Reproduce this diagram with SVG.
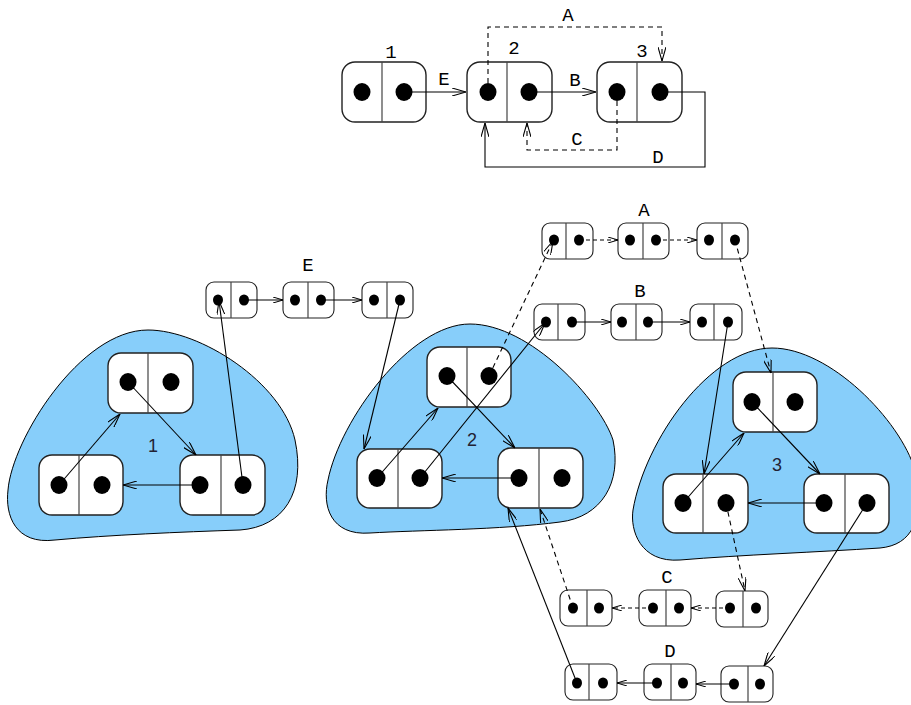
<svg xmlns="http://www.w3.org/2000/svg" width="911" height="705" viewBox="0 0 911 705">
<style>
.blob{fill:#87cefa;stroke:#000;stroke-width:1}
.big rect{fill:#fff;stroke:#222;stroke-width:1.4}
.sm rect{fill:#fff;stroke:#222;stroke-width:1.1}
.div{stroke:#444;stroke-width:1.2}
.dot{fill:#000}
.c{fill:none;stroke:#000;stroke-width:1.1}
.d{stroke-dasharray:5,4}
.ds{stroke-dasharray:4,3}
.a{marker-end:url(#ah)}
.as{marker-end:url(#ahs)}
.mono{font-family:"Liberation Mono","DejaVu Sans Mono",monospace;font-size:19px;fill:#000;text-anchor:middle}
.sans{font-family:"Liberation Sans","DejaVu Sans",sans-serif;font-size:18px;fill:#223;text-anchor:middle}
</style>
<defs>
<marker id="ah" viewBox="0 0 14 8" refX="14" refY="4" markerWidth="14" markerHeight="8" markerUnits="userSpaceOnUse" orient="auto"><path d="M0,0 L14,4 L0,8" fill="none" stroke="#000" stroke-width="1.1"/></marker>
<marker id="ahs" viewBox="0 0 10 6" refX="10" refY="3" markerWidth="10" markerHeight="6" markerUnits="userSpaceOnUse" orient="auto"><path d="M0,0 L10,3 L0,6" fill="none" stroke="#000" stroke-width="1"/></marker>
</defs>

<g id="blobs">
<path id="blob1" class="blob" d="M148,330 C200,330 282,382 295,440 C306,492 284,527 240,530 C180,532 110,535 55,540 C15,545 5,515 8,490 C12,440 80,330 148,330 Z"/>
<path id="blob2" class="blob" d="M470,324 C530,324 600,400 613,440 C622,482 602,517 560,522 C500,530 420,530 370,533 C330,536 322,505 328,480 C340,420 410,324 470,324 Z"/>
<path id="blob3" class="blob" d="M772,348 C830,348 900,420 915,470 C925,520 912,545 880,548 C820,552 740,555 680,560 C640,563 630,530 633,510 C645,440 710,348 772,348 Z"/>
<text class="sans" x="153" y="452">1</text>
<text class="sans" x="472" y="446">2</text>
<text class="sans" x="777" y="471">3</text>
</g>

<g id="top-nodes">
<g id="t1" class="big" transform="translate(342,62)"><rect width="84" height="60" rx="13"/><line class="div" x1="40" y1="0" x2="40" y2="60"/><ellipse class="dot" cx="20" cy="30" rx="8.5" ry="9"/><ellipse class="dot" cx="62" cy="30" rx="8.5" ry="9"/></g>
<g id="t2" class="big" transform="translate(467,62)"><rect width="85" height="60" rx="13"/><line class="div" x1="40" y1="0" x2="40" y2="60"/><ellipse class="dot" cx="21" cy="30" rx="8.5" ry="9"/><ellipse class="dot" cx="62" cy="30" rx="8.5" ry="9"/></g>
<g id="t3" class="big" transform="translate(597,62)"><rect width="85" height="60" rx="13"/><line class="div" x1="40" y1="0" x2="40" y2="60"/><ellipse class="dot" cx="20" cy="30" rx="8.5" ry="9"/><ellipse class="dot" cx="63" cy="30" rx="8.5" ry="9"/></g>
<text class="mono" x="391" y="58">1</text>
<text class="mono" x="514" y="54">2</text>
<text class="mono" x="642" y="57">3</text>
</g>

<g id="blob-nodes">
<g id="l-top" class="big" transform="translate(108,353)"><rect width="85" height="60" rx="13"/><line class="div" x1="40" y1="0" x2="40" y2="60"/><ellipse class="dot" cx="20" cy="29" rx="8.5" ry="9"/><ellipse class="dot" cx="63" cy="29" rx="8.5" ry="9"/></g>
<g id="l-bl" class="big" transform="translate(39,455)"><rect width="84" height="60" rx="13"/><line class="div" x1="40" y1="0" x2="40" y2="60"/><ellipse class="dot" cx="20" cy="30" rx="8.5" ry="9"/><ellipse class="dot" cx="63" cy="30" rx="8.5" ry="9"/></g>
<g id="l-br" class="big" transform="translate(180,455)"><rect width="85" height="60" rx="13"/><line class="div" x1="41" y1="0" x2="41" y2="60"/><ellipse class="dot" cx="20" cy="30" rx="8.5" ry="9"/><ellipse class="dot" cx="63" cy="30" rx="8.5" ry="9"/></g>

<g id="m-top" class="big" transform="translate(427,347)"><rect width="84" height="60" rx="13"/><line class="div" x1="40" y1="0" x2="40" y2="60"/><ellipse class="dot" cx="20" cy="29" rx="8.5" ry="9"/><ellipse class="dot" cx="62" cy="29" rx="8.5" ry="9"/></g>
<g id="m-bl" class="big" transform="translate(357,449)"><rect width="85" height="59" rx="13"/><line class="div" x1="41" y1="0" x2="41" y2="59"/><ellipse class="dot" cx="20" cy="29" rx="8.5" ry="9"/><ellipse class="dot" cx="63" cy="29" rx="8.5" ry="9"/></g>
<g id="m-br" class="big" transform="translate(498,448)"><rect width="85" height="60" rx="13"/><line class="div" x1="41" y1="0" x2="41" y2="60"/><ellipse class="dot" cx="21" cy="30" rx="8.5" ry="9"/><ellipse class="dot" cx="64" cy="30" rx="8.5" ry="9"/></g>

<g id="r-top" class="big" transform="translate(733,372)"><rect width="84" height="60" rx="13"/><line class="div" x1="40" y1="0" x2="40" y2="60"/><ellipse class="dot" cx="19" cy="30" rx="8.5" ry="9"/><ellipse class="dot" cx="62" cy="30" rx="8.5" ry="9"/></g>
<g id="r-bl" class="big" transform="translate(663,474)"><rect width="85" height="59" rx="13"/><line class="div" x1="40" y1="0" x2="40" y2="59"/><ellipse class="dot" cx="20" cy="29" rx="8.5" ry="9"/><ellipse class="dot" cx="63" cy="29" rx="8.5" ry="9"/></g>
<g id="r-br" class="big" transform="translate(804,474)"><rect width="85" height="59" rx="13"/><line class="div" x1="41" y1="0" x2="41" y2="59"/><ellipse class="dot" cx="20" cy="29" rx="8.5" ry="9"/><ellipse class="dot" cx="63" cy="29" rx="8.5" ry="9"/></g>
</g>

<g id="small-nodes">
<g id="e1" class="sm" transform="translate(206,282)"><rect width="51" height="36" rx="8"/><line class="div" x1="25" y1="0" x2="25" y2="36"/><ellipse class="dot" cx="12" cy="18" rx="5" ry="5.5"/><ellipse class="dot" cx="38" cy="18" rx="5" ry="5.5"/></g>
<g id="e2" class="sm" transform="translate(283,282)"><rect width="51" height="36" rx="8"/><line class="div" x1="25" y1="0" x2="25" y2="36"/><ellipse class="dot" cx="12" cy="18" rx="5" ry="5.5"/><ellipse class="dot" cx="38" cy="18" rx="5" ry="5.5"/></g>
<g id="e3" class="sm" transform="translate(362,282)"><rect width="51" height="36" rx="8"/><line class="div" x1="25" y1="0" x2="25" y2="36"/><ellipse class="dot" cx="12" cy="18" rx="5" ry="5.5"/><ellipse class="dot" cx="38" cy="18" rx="5" ry="5.5"/></g>

<g id="a1" class="sm" transform="translate(542,223)"><rect width="51" height="36" rx="8"/><line class="div" x1="24" y1="0" x2="24" y2="36"/><ellipse class="dot" cx="12" cy="17" rx="5" ry="5.5"/><ellipse class="dot" cx="37" cy="17" rx="5" ry="5.5"/></g>
<g id="a2" class="sm" transform="translate(618,223)"><rect width="51" height="36" rx="8"/><line class="div" x1="25" y1="0" x2="25" y2="36"/><ellipse class="dot" cx="12" cy="17" rx="5" ry="5.5"/><ellipse class="dot" cx="38" cy="17" rx="5" ry="5.5"/></g>
<g id="a3" class="sm" transform="translate(697,223)"><rect width="51" height="36" rx="8"/><line class="div" x1="25" y1="0" x2="25" y2="36"/><ellipse class="dot" cx="12" cy="17" rx="5" ry="5.5"/><ellipse class="dot" cx="38" cy="17" rx="5" ry="5.5"/></g>

<g id="b1" class="sm" transform="translate(534,304)"><rect width="51" height="36" rx="8"/><line class="div" x1="24" y1="0" x2="24" y2="36"/><ellipse class="dot" cx="12" cy="18" rx="5" ry="5.5"/><ellipse class="dot" cx="38" cy="18" rx="5" ry="5.5"/></g>
<g id="b2" class="sm" transform="translate(611,304)"><rect width="51" height="36" rx="8"/><line class="div" x1="25" y1="0" x2="25" y2="36"/><ellipse class="dot" cx="11" cy="18" rx="5" ry="5.5"/><ellipse class="dot" cx="37" cy="18" rx="5" ry="5.5"/></g>
<g id="b3" class="sm" transform="translate(690,304)"><rect width="52" height="36" rx="8"/><line class="div" x1="24" y1="0" x2="24" y2="36"/><ellipse class="dot" cx="12" cy="18" rx="5" ry="5.5"/><ellipse class="dot" cx="38" cy="18" rx="5" ry="5.5"/></g>

<g id="c1" class="sm" transform="translate(560,590)"><rect width="52" height="36" rx="8"/><line class="div" x1="27" y1="0" x2="27" y2="36"/><ellipse class="dot" cx="13" cy="18" rx="5" ry="5.5"/><ellipse class="dot" cx="39" cy="18" rx="5" ry="5.5"/></g>
<g id="c2" class="sm" transform="translate(639,590)"><rect width="52" height="36" rx="8"/><line class="div" x1="27" y1="0" x2="27" y2="36"/><ellipse class="dot" cx="14" cy="18" rx="5" ry="5.5"/><ellipse class="dot" cx="40" cy="18" rx="5" ry="5.5"/></g>
<g id="c3" class="sm" transform="translate(716,591)"><rect width="52" height="36" rx="8"/><line class="div" x1="27" y1="0" x2="27" y2="36"/><ellipse class="dot" cx="14" cy="17" rx="5" ry="5.5"/><ellipse class="dot" cx="40" cy="17" rx="5" ry="5.5"/></g>

<g id="d1" class="sm" transform="translate(565,664)"><rect width="52" height="36" rx="8"/><line class="div" x1="24" y1="0" x2="24" y2="36"/><ellipse class="dot" cx="12" cy="19" rx="5" ry="5.5"/><ellipse class="dot" cx="38" cy="19" rx="5" ry="5.5"/></g>
<g id="d2" class="sm" transform="translate(644,664)"><rect width="52" height="36" rx="8"/><line class="div" x1="27" y1="0" x2="27" y2="36"/><ellipse class="dot" cx="13" cy="19" rx="5" ry="5.5"/><ellipse class="dot" cx="39" cy="19" rx="5" ry="5.5"/></g>
<g id="d3" class="sm" transform="translate(721,666)"><rect width="52" height="36" rx="8"/><line class="div" x1="27" y1="0" x2="27" y2="36"/><ellipse class="dot" cx="13" cy="18" rx="5" ry="5.5"/><ellipse class="dot" cx="39" cy="18" rx="5" ry="5.5"/></g>
</g>

<g id="connectors">
<!-- top diagram -->
<line class="c a" x1="404" y1="92" x2="466" y2="92"/>
<line class="c a" x1="529" y1="92" x2="596" y2="92"/>
<path class="c d a" d="M488,92 V27 H662 V61"/>
<path class="c d a" d="M617,92 V150 H527 V123"/>
<path class="c a" d="M660,92 H705 V167 H485 V123"/>
<!-- left blob -->
<line class="c a" x1="59" y1="485" x2="120" y2="414"/>
<line class="c a" x1="128" y1="382" x2="196" y2="455"/>
<line class="c a" x1="200" y1="485" x2="123" y2="485"/>
<line class="c a" x1="243" y1="485" x2="219" y2="301"/>
<!-- E row -->
<line class="c as" x1="244" y1="300" x2="283" y2="300"/>
<line class="c as" x1="321" y1="300" x2="362" y2="300"/>
<line class="c a" x1="400" y1="300" x2="364" y2="449"/>
<!-- middle blob -->
<line class="c a" x1="377" y1="478" x2="438" y2="408"/>
<line class="c a" x1="447" y1="376" x2="515" y2="448"/>
<line class="c a" x1="519" y1="478" x2="442" y2="478"/>
<line class="c a" x1="420" y1="478" x2="545" y2="323"/>
<line class="c d a" x1="489" y1="376" x2="553" y2="241"/>
<line class="c a" x1="577" y1="683" x2="508" y2="508"/>
<line class="c d a" x1="573" y1="608" x2="540" y2="509"/>
<!-- A row -->
<line class="c ds as" x1="579" y1="240" x2="618" y2="240"/>
<line class="c ds as" x1="656" y1="240" x2="697" y2="240"/>
<line class="c d a" x1="735" y1="240" x2="771" y2="373"/>
<!-- B row -->
<line class="c as" x1="572" y1="322" x2="611" y2="322"/>
<line class="c as" x1="648" y1="322" x2="690" y2="322"/>
<line class="c a" x1="728" y1="322" x2="704" y2="474"/>
<!-- right blob -->
<line class="c a" x1="683" y1="503" x2="744" y2="433"/>
<line class="c a" x1="752" y1="402" x2="820" y2="474"/>
<line class="c a" x1="824" y1="503" x2="748" y2="503"/>
<line class="c d a" x1="726" y1="503" x2="745" y2="591"/>
<line class="c a" x1="867" y1="503" x2="764" y2="666"/>
<!-- C row -->
<line class="c ds as" x1="730" y1="608" x2="691" y2="608"/>
<line class="c ds as" x1="653" y1="608" x2="612" y2="608"/>
<!-- D row -->
<line class="c as" x1="734" y1="684" x2="696" y2="684"/>
<line class="c as" x1="657" y1="683" x2="617" y2="683"/>
</g>

<g id="labels">
<text class="mono" x="444" y="85">E</text>
<text class="mono" x="575" y="86">B</text>
<text class="mono" x="568" y="21">A</text>
<text class="mono" x="577" y="145">C</text>
<text class="mono" x="658" y="163">D</text>
<text class="mono" x="308" y="271">E</text>
<text class="mono" x="644" y="216">A</text>
<text class="mono" x="640" y="297">B</text>
<text class="mono" x="667" y="583">C</text>
<text class="mono" x="670" y="657">D</text>
</g>
</svg>
